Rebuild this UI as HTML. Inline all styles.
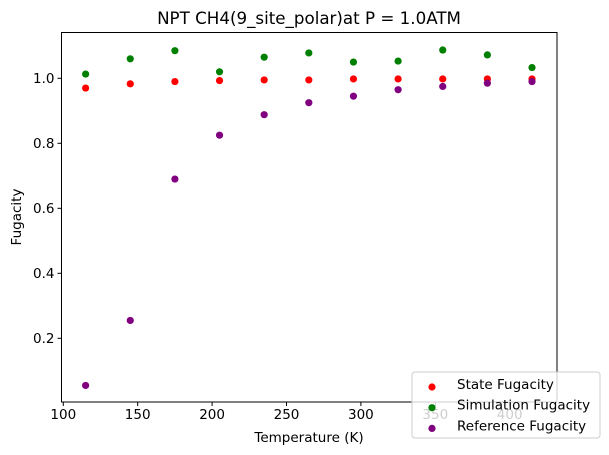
<!DOCTYPE html>
<html><head><meta charset="utf-8"><style>body{margin:0;background:#fff}svg{display:block;font-family:"DejaVu Sans","Liberation Sans",sans-serif}</style></head>
<body>
<svg id="chart" width="609" height="455"></svg>
<script>
const temps=[115,145,175,205,235,265,295,325,355,385,415];
const stateF=[0.97,0.983,0.99,0.993,0.995,0.995,0.998,0.998,0.998,0.998,0.998];
const simF=[1.013,1.06,1.085,1.02,1.065,1.078,1.05,1.053,1.087,1.072,1.033];
const refF=[0.055,0.255,0.69,0.825,0.888,0.925,0.945,0.965,0.975,0.985,0.99];
const xTicks=[100,150,200,250,300,350,400];
const yTicks=[0.2,0.4,0.6,0.8,1.0];
const L=61.5,R=557,T=32.5,B=402;
const xs=v=>63.3+(v-100)*1.488;
const ys=v=>78.3+(1-v)*325;
const svg=document.getElementById('chart');
const NS='http://www.w3.org/2000/svg';
function mk(t,a,p){const e=document.createElementNS(NS,t);for(const k in a)e.setAttribute(k,a[k]);(p||svg).appendChild(e);return e;}
let e;
e=mk('text',{x:309,y:24,'text-anchor':'middle','font-size':16.7,fill:'#000'});e.textContent='NPT CH4(9_site_polar)at P = 1.0ATM';


e=mk('rect',{x:L,y:T,width:R-L,height:B-T,fill:'none',stroke:'#000','stroke-width':1});


xTicks.forEach(t=>{const x=xs(t);mk('line',{x1:x,x2:x,y1:B,y2:B+4,stroke:'#000'});
e=mk('text',{x:x,y:B+17,'text-anchor':'middle','font-size':13.5,fill:'#000'});e.textContent=t;

});
yTicks.forEach(t=>{const y=ys(t);mk('line',{x1:L,x2:L-4,y1:y,y2:y,stroke:'#000'});
e=mk('text',{x:L-7,y:y+4.5,'text-anchor':'end','font-size':13.5,fill:'#000'});e.textContent=t.toFixed(1);

});
e=mk('text',{x:309,y:442,'text-anchor':'middle','font-size':13.5,fill:'#000'});e.textContent='Temperature (K)';


e=mk('text',{x:21,y:217,'text-anchor':'middle','font-size':13.5,fill:'#000',transform:'rotate(-90 21 217)'});e.textContent='Fugacity';


const series=[[stateF,'red','state'],[simF,'green','simulation'],[refF,'purple','reference']];
series.forEach(([vals,col,n])=>{vals.forEach((v,i)=>{e=mk('circle',{cx:xs(temps[i]),cy:ys(v),r:3.6,fill:col});

});});
const lg=mk('g',{});


mk('rect',{x:412,y:372,width:188,height:66,rx:3,fill:'#fff','fill-opacity':0.8,stroke:'#ccc'},lg);
[['State Fugacity','red'],['Simulation Fugacity','green'],['Reference Fugacity','purple']].forEach(([t,c],i)=>{
const y=385+i*20.7;
mk('circle',{cx:432,cy:y+2,r:3.6,fill:c},lg);
e=mk('text',{x:457,y:y+4,'font-size':13.5,fill:'#000'},lg);e.textContent=t;

});
</script>
</body></html>
